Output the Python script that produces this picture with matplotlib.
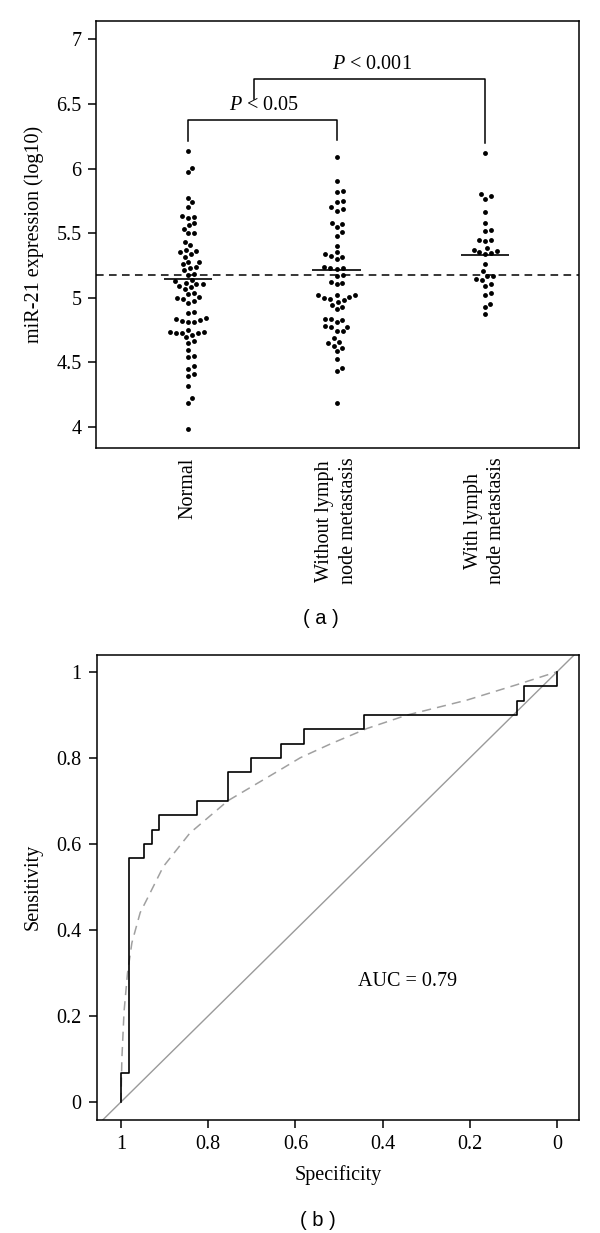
import numpy as np
import matplotlib
matplotlib.use("Agg")
import matplotlib.pyplot as plt

plt.rcParams["font.family"] = ["Liberation Serif", "DejaVu Serif"]
plt.rcParams["mathtext.fontset"] = "custom"
plt.rcParams["mathtext.rm"] = "Liberation Serif"
plt.rcParams["mathtext.it"] = "Liberation Serif:italic"

FS = 14.5

# ---- panel (a): miR-21 expression per group (log10) ----
GROUPS = ["Normal", "Without lymph\nnode metastasis", "With lymph\nnode metastasis"]

normal = [6.136, 6.007, 5.971, 5.775, 5.739, 5.701, 5.634, 5.628, 5.615, 5.577,
          5.561, 5.533, 5.505, 5.500, 5.435, 5.409, 5.371, 5.363, 5.353, 5.337,
          5.319, 5.280, 5.280, 5.262, 5.236, 5.234, 5.216, 5.185, 5.177, 5.136,
          5.128, 5.118, 5.108, 5.105, 5.092, 5.087, 5.069, 5.036, 5.028, 5.005,
          5.002, 4.989, 4.976, 4.963, 4.890, 4.880, 4.847, 4.837, 4.830, 4.820,
          4.816, 4.810, 4.754, 4.739, 4.736, 4.731, 4.731, 4.728, 4.713, 4.695,
          4.667, 4.649, 4.597, 4.553, 4.540, 4.474, 4.453, 4.412, 4.398, 4.314,
          4.221, 4.185, 3.984]

without_lnm = [6.092, 5.904, 5.829, 5.817, 5.750, 5.739, 5.701, 5.685, 5.675, 5.582,
               5.572, 5.546, 5.507, 5.481, 5.401, 5.352, 5.337, 5.324, 5.314, 5.298,
               5.237, 5.234, 5.229, 5.224, 5.178, 5.165, 5.120, 5.118, 5.103, 5.023,
               5.023, 5.018, 5.010, 5.002, 4.992, 4.984, 4.971, 4.948, 4.927, 4.912,
               4.837, 4.834, 4.829, 4.811, 4.785, 4.778, 4.772, 4.747, 4.747, 4.688,
               4.659, 4.649, 4.631, 4.615, 4.589, 4.530, 4.455, 4.437, 4.190]

with_lnm = [6.118, 5.804, 5.788, 5.767, 5.667, 5.582, 5.525, 5.520, 5.445, 5.445,
            5.443, 5.383, 5.373, 5.363, 5.352, 5.345, 5.337, 5.262, 5.208, 5.172,
            5.169, 5.144, 5.138, 5.107, 5.095, 5.035, 5.022, 4.953, 4.927, 4.875]

medians = [5.146, 5.216, 5.332]
cutoff = 5.18

# significance brackets: (x left, x right, y top, y left foot, y right foot, label)
brackets = [
    (1.0, 2.0, 6.376, 6.213, 6.220, r"$\it{P}$ < 0.05"),
    (1.447, 3.0, 6.693, 6.536, 6.196, r"$\it{P}$ < 0.001"),
]

# ---- panel (b): ROC curve ----
roc_spec = [1.000, 1.000, 0.982, 0.947, 0.930, 0.912, 0.825, 0.755, 0.703, 0.633,
            0.580, 0.442, 0.092, 0.076, 0.000]
roc_sens = [0.000, 0.067, 0.567, 0.600, 0.633, 0.667, 0.700, 0.767, 0.800, 0.833,
            0.867, 0.900, 0.933, 0.967, 1.000]

smooth_spec = [1.000, 0.998, 0.993, 0.985, 0.975, 0.956, 0.941, 0.903, 0.842, 0.755,
               0.635, 0.589, 0.520, 0.436, 0.345, 0.207, 0.092, 0.000]
smooth_sens = [0.000, 0.100, 0.210, 0.300, 0.370, 0.440, 0.470, 0.547, 0.625, 0.700,
               0.772, 0.800, 0.832, 0.868, 0.899, 0.934, 0.970, 1.000]

auc = 0.79


def swarm(values, d, px_per_unit):
    # simple beeswarm: put each point as close to the centre as it can go
    ys = np.asarray(values) * px_per_unit
    xs = np.zeros(len(ys))
    placed = []
    for i in np.argsort(ys):
        y = ys[i]
        cands = [0.0]
        for px, py in placed:
            dy = y - py
            if abs(dy) < d:
                dx = np.sqrt(d * d - dy * dy)
                cands += [px + dx, px - dx]
        cands.sort(key=abs)
        for c in cands:
            if all((c - px) ** 2 + (y - py) ** 2 >= d * d - 1e-6 for px, py in placed):
                xs[i] = c
                break
        placed.append((xs[i], y))
    return xs


W, H = 600, 1233
fig = plt.figure(figsize=(W / 100, H / 100), dpi=100)

ax1 = fig.add_axes([96 / W, 1 - 448 / H, 483 / W, 427.3 / H])
ax1.set_xlim(0.38, 3.633)
ax1.set_ylim(3.838, 7.144)

px_x = 148.5   # pixels per group step
px_y = 129.3   # pixels per log10 unit
for i, vals in enumerate([normal, without_lnm, with_lnm]):
    xc = i + 1
    off = swarm(vals, 6.2, px_y) / px_x
    ax1.plot(xc + off, vals, "o", ms=3.5, color="black", mec="none")
    ax1.hlines(medians[i], xc - 0.163, xc + 0.163, color="black", lw=1.2)

ax1.axhline(cutoff, color="black", lw=1.1, ls=(0, (5, 3.5)))

for xl, xr, yt, yl, yr, lab in brackets:
    ax1.plot([xl, xl, xr, xr], [yl, yt, yt, yr], color="black", lw=1.1)
    ax1.text((xl + xr) / 2 + 0.015, yt + 0.035, lab, ha="center", va="bottom", fontsize=FS)

yt_vals = [4, 4.5, 5, 5.5, 6, 6.5, 7]
ax1.set_yticks(yt_vals)
ax1.set_yticklabels(["4", "4.5", "5", "5.5", "6", "6.5", "7"], fontsize=FS)
ax1.set_xticks([1, 2, 3])
ax1.set_xticklabels(GROUPS, rotation=90, fontsize=FS, va="top", ha="center",
                    linespacing=1.3)
ax1.tick_params(axis="y", length=6, width=1.1, pad=4.5)
ax1.tick_params(axis="x", length=0, pad=7)
ax1.text(-0.128, 0.5, "miR-21 expression (log10)", transform=ax1.transAxes,
         rotation=90, ha="center", va="center", fontsize=FS)
for s in ax1.spines.values():
    s.set_linewidth(1.1)

fig.text(321 / W, 1 - 619 / H, "( a )", ha="center", va="center",
         fontsize=14.5, family="Liberation Sans")

# ---- ROC ----
ax2 = fig.add_axes([97 / W, 1 - 1120 / H, 482 / W, 465.5 / H])
ax2.set_xlim(1.055, -0.05)
ax2.set_ylim(-0.042, 1.04)

ax2.axline((1, 0), (0, 1), color="#9a9a9a", lw=1.0)
ax2.plot(smooth_spec, smooth_sens, color="#a0a0a0", lw=1.1, ls=(0, (6, 4)))
ax2.plot(roc_spec, roc_sens, color="black", lw=1.2, drawstyle="steps-post")
ax2.text(0.342, 0.279, f"AUC = {auc:.2f}", ha="center", va="center", fontsize=FS)

ticks = [0, 0.2, 0.4, 0.6, 0.8, 1]
tick_labels = ["0", "0.2", "0.4", "0.6", "0.8", "1"]
ax2.set_xticks(ticks)
ax2.set_xticklabels(tick_labels, fontsize=FS)
ax2.set_yticks(ticks)
ax2.set_yticklabels(tick_labels, fontsize=FS)
ax2.tick_params(length=6, width=1.1, pad=5)
ax2.text(0.5, -0.118, "Specificity", transform=ax2.transAxes,
         ha="center", va="center", fontsize=FS)
ax2.text(-0.133, 0.5, "Sensitivity", transform=ax2.transAxes,
         rotation=90, ha="center", va="center", fontsize=FS)
for s in ax2.spines.values():
    s.set_linewidth(1.1)

fig.text(318 / W, 1 - 1221 / H, "( b )", ha="center", va="center",
         fontsize=14.5, family="Liberation Sans")

fig.savefig("out.png", dpi=100)
